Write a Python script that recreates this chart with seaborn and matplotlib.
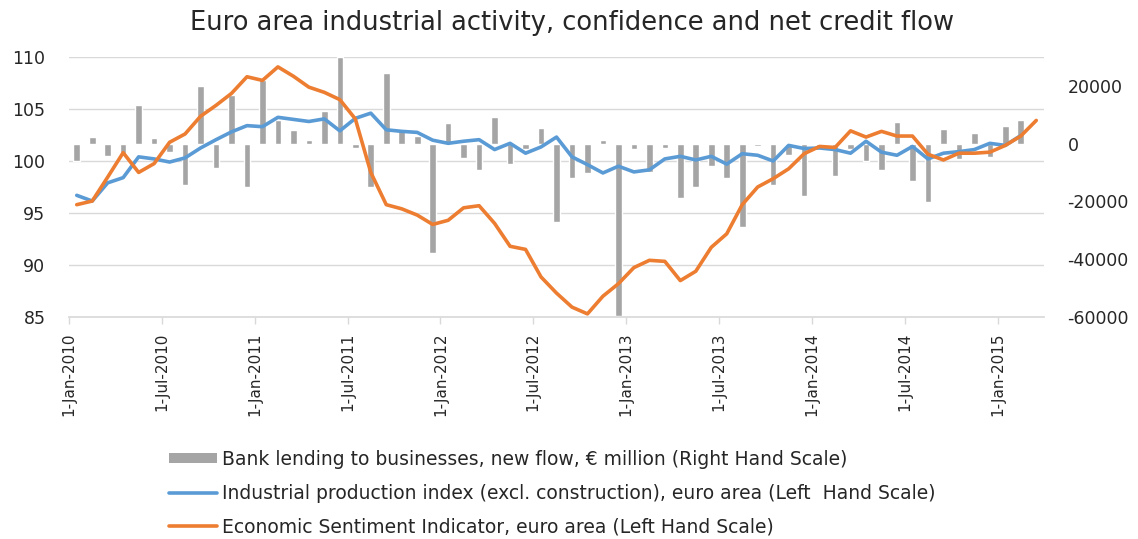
import numpy as np
import pandas as pd
import matplotlib
matplotlib.use("Agg")
import matplotlib.pyplot as plt
import seaborn as sns
from matplotlib.patches import Patch
from matplotlib.lines import Line2D

sns.set_theme(style="white")
plt.rcParams["font.family"] = ["DejaVu Sans"]
plt.rcParams["axes.unicode_minus"] = False

# monthly data, Jan-2010 .. Mar-2015
# bank lending to businesses, new flow, EUR million (Jan-2010 .. Feb-2015)
lending = [-6000, 2300, -4400, -3500, 13300, 2000, -3000, -14400, 19800, -8300,
           17000, -15100, 22000, 8200, 4850, 1400, 11400, 30000, -1600, -15100,
           24500, 4500, 2600, -37800, 7150, -5100, -9200, 9100, -7000, -1700,
           5500, -27100, -11900, -10300, 1400, -59500, -1800, -9900, -1500, -18700,
           -15100, -7700, -11900, -28800, -900, -14200, -3900, -18000, -2000, -11300,
           -2000, -5900, -9200, 7400, -12800, -20300, 5100, -5300, 3800, -4600,
           6000, 8300]

# industrial production index excl. construction (Jan-2010 .. Feb-2015)
ind_prod = [96.7, 96.15, 97.9, 98.4, 100.4, 100.2, 99.9, 100.3, 101.25, 102.05,
            102.8, 103.4, 103.3, 104.2, 104.0, 103.8, 104.05, 102.9, 104.1, 104.6,
            103.0, 102.85, 102.75, 102.0, 101.7, 101.9, 102.05, 101.1, 101.7, 100.75,
            101.35, 102.3, 100.4, 99.65, 98.85, 99.5, 98.95, 99.15, 100.2, 100.45,
            100.1, 100.45, 99.7, 100.7, 100.55, 100.0, 101.5, 101.2, 101.25, 101.1,
            100.75, 101.9, 100.85, 100.55, 101.4, 100.2, 100.75, 100.9, 101.1, 101.7,
            101.5, 102.45]

# economic sentiment indicator (Jan-2010 .. Mar-2015)
esi = [95.8, 96.15, 98.45, 100.8, 98.9, 99.75, 101.8, 102.6, 104.3, 105.35,
       106.5, 108.1, 107.75, 109.05, 108.15, 107.1, 106.6, 105.9, 104.05, 98.9,
       95.8, 95.4, 94.8, 93.9, 94.3, 95.5, 95.7, 94.0, 91.8, 91.5,
       88.85, 87.3, 85.95, 85.3, 87.0, 88.2, 89.75, 90.45, 90.35, 88.5,
       89.4, 91.7, 93.0, 95.8, 97.5, 98.3, 99.25, 100.7, 101.4, 101.3,
       102.9, 102.3, 102.85, 102.4, 102.4, 100.65, 100.1, 100.75, 100.75, 100.85,
       101.5, 102.4, 103.9]

tick_labels = ["1-Jan-2010", "1-Jul-2010", "1-Jan-2011", "1-Jul-2011", "1-Jan-2012",
               "1-Jul-2012", "1-Jan-2013", "1-Jul-2013", "1-Jan-2014", "1-Jul-2014",
               "1-Jan-2015"]

left_ticks = [85, 90, 95, 100, 105, 110]
right_ticks = [-60000, -40000, -20000, 0, 20000]

legend_labels = [
    "Bank lending to businesses, new flow, \u20ac million (Right Hand Scale)",
    "Industrial production index (excl. construction), euro area (Left  Hand Scale)",
    "Economic Sentiment Indicator, euro area (Left Hand Scale)",
]

grey = "#a5a5a5"
blue = "#5b9bd5"
orange = "#ed7d31"
txt = "#262626"
grid_c = "#d9d9d9"

df_bar = pd.DataFrame({"m": np.arange(len(lending)), "v": lending})
df_ip = pd.DataFrame({"m": np.arange(len(ind_prod)), "v": ind_prod})
df_esi = pd.DataFrame({"m": np.arange(len(esi)), "v": esi})

fig = plt.figure(figsize=(11.38, 5.39), dpi=100)
ax_bar = fig.add_axes([69 / 1138, 1 - 317 / 539, 975 / 1138, 260 / 539])
ax = ax_bar.twinx()

# bars (right hand scale)
sns.barplot(data=df_bar, x="m", y="v", ax=ax_bar, color=grey, saturation=1,
            width=0.43, native_scale=True, errorbar=None)
ax_bar.set_ylim(-60000, 30000)
ax_bar.yaxis.tick_right()
ax_bar.set_yticks(right_ticks, [str(t) for t in right_ticks])

# gridlines of the left scale, drawn behind the bars
grid_pos = np.interp(left_ticks, [85, 110], [-60000, 30000])
ax_bar.set_yticks(grid_pos, minor=True)
ax_bar.grid(axis="y", which="minor", color=grid_c, lw=1)
ax_bar.set_axisbelow(True)

# lines (left hand scale)
sns.lineplot(data=df_ip, x="m", y="v", ax=ax, color=blue, lw=2.6, legend=False)
sns.lineplot(data=df_esi, x="m", y="v", ax=ax, color=orange, lw=2.6, legend=False)
ax.set_ylim(85, 110)
ax.yaxis.tick_left()
ax.set_yticks(left_ticks, [str(t) for t in left_ticks])

ax_bar.set_xlim(-0.5, len(esi) - 0.5)
ax_bar.set_xticks(np.arange(len(tick_labels)) * 6 - 0.5, tick_labels, rotation=90)

for a in (ax, ax_bar):
    a.set_xlabel("")
    a.set_ylabel("")
    for s in a.spines.values():
        s.set_visible(False)
ax_bar.spines["bottom"].set_visible(True)
ax_bar.spines["bottom"].set_color(grid_c)

ax_bar.tick_params(axis="x", which="major", length=5, color=grid_c, width=1,
                   labelcolor=txt, labelsize=11, pad=6, bottom=True)
ax_bar.tick_params(axis="y", which="both", length=0, labelcolor=txt, labelsize=12.5, pad=17)
ax.tick_params(axis="y", length=0, labelcolor=txt, labelsize=12.5, pad=17)

fig.text(0.503, 1 - 23 / 539, "Euro area industrial activity, confidence and net credit flow",
         ha="center", va="center", fontsize=18.5, color=txt)

handles = [Patch(facecolor=grey, edgecolor="none"),
           Line2D([], [], color=blue, lw=2.6),
           Line2D([], [], color=orange, lw=2.6)]
fig.legend(handles, legend_labels, loc="upper left", bbox_to_anchor=(169 / 1138, 1 - 450 / 539),
           frameon=False, fontsize=13.5, handlelength=2.55, handleheight=0.42,
           handletextpad=0.3, labelspacing=0.78, borderpad=0, borderaxespad=0,
           labelcolor=txt)

fig.savefig("out.png", dpi=100)
